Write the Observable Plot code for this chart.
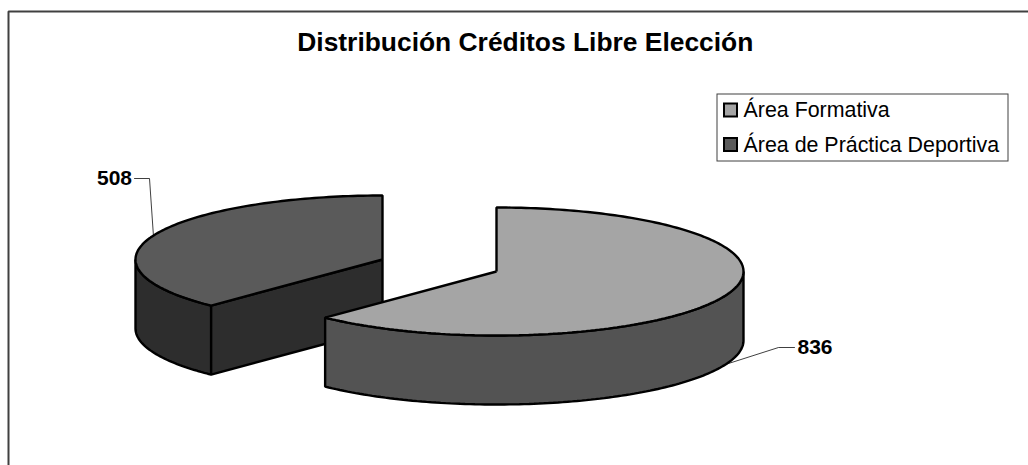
<!DOCTYPE html>
<html lang="es">
<head>
<meta charset="utf-8">
<script src="https://cdn.jsdelivr.net/npm/d3@7"></script>
<script src="https://cdn.jsdelivr.net/npm/@observablehq/plot@0.6"></script>
<style>
html,body{margin:0;padding:0;background:#fff;overflow:hidden}
svg{display:block}
</style>
</head>
<body>
<div id="chart"></div>
<script>
const categories = ["Área Formativa", "Área de Práctica Deportiva"];
const creditValues = [836, 508];
const topColors = ["#a5a5a5", "#5a5a5a"];
const sideColors = ["#535353", "#2d2d2d"];
const chartTitle = "Distribución Créditos Libre Elección";

const W = 1028, H = 465;
const rx = 247, ry = 64, depth = 69;
const centers = [{x: 496, y: 271}, {x: 382, y: 259}];
const labelAnchors = [
  {elbow: {x: 778, y: 347}, end: {x: 794, y: 347}, text: {x: 797, y: 347}, anchor: "start"},
  {elbow: {x: 149, y: 178}, end: {x: 134, y: 178}, text: {x: 131.5, y: 177.5}, anchor: "end"}
];

const arcs = d3.pie().sort(null).value(d => d)(creditValues);
const at = (c, a, dz = 0) => ({x: c.x + rx * Math.sin(a), y: c.y - ry * Math.cos(a) + dz});
const sweep = (c, a0, a1, dz = 0) => {
  const n = Math.max(2, Math.ceil(Math.abs(a1 - a0) / 0.02));
  return d3.range(n + 1).map(i => at(c, a0 + (a1 - a0) * i / n, dz));
};

const common = {x: "x", y: "y", stroke: "#000", strokeWidth: 2.4, strokeLinejoin: "miter", strokeLinecap: "butt"};
const marks = [];

// frame
marks.push(Plot.line([{x: 8, y: H}, {x: 8, y: 11}, {x: W, y: 11}],
  {x: "x", y: "y", stroke: "#404040", strokeWidth: 2, strokeLinejoin: "miter"}));

// slice 2 (back-left)
{
  const c = centers[1], a = arcs[1];
  const leftExtreme = 1.5 * Math.PI;
  const face = [at(c, a.startAngle), {x: c.x, y: c.y}, {x: c.x, y: c.y + depth}, at(c, a.startAngle, depth), at(c, a.startAngle)];
  const outer = [...sweep(c, a.startAngle, leftExtreme), ...sweep(c, leftExtreme, a.startAngle, depth)];
  outer.push(outer[0]);
  marks.push(Plot.line(outer, {...common, fill: sideColors[1]}));
  marks.push(Plot.line(face, {...common, fill: sideColors[1]}));
  const top = [{x: c.x, y: c.y}, ...sweep(c, a.startAngle, a.endAngle), {x: c.x, y: c.y}];
  marks.push(Plot.line(top, {...common, fill: topColors[1]}));
}
// slice 1 (front-right)
{
  const c = centers[0], a = arcs[0];
  const rightExtreme = 0.5 * Math.PI;
  const outer = [...sweep(c, rightExtreme, a.endAngle), ...sweep(c, a.endAngle, rightExtreme, depth)];
  outer.push(outer[0]);
  marks.push(Plot.line(outer, {...common, fill: sideColors[0]}));
  const top = [{x: c.x, y: c.y}, ...sweep(c, a.startAngle, a.endAngle), {x: c.x, y: c.y}];
  marks.push(Plot.line(top, {...common, fill: topColors[0]}));
}

// value labels with leader lines anchored at each slice's mid-angle
arcs.forEach((a, i) => {
  const mid = (a.startAngle + a.endAngle) / 2;
  const c = centers[i];
  const start = at(c, mid, i === 0 ? depth : 0);
  const L = labelAnchors[i];
  marks.push(Plot.line([start, L.elbow, L.end], {x: "x", y: "y", stroke: "#000", strokeWidth: 0.75, strokeLinejoin: "miter"}));
  marks.push(Plot.text([creditValues[i]], {
    x: () => L.text.x, y: () => L.text.y, text: d => String(d),
    textAnchor: L.anchor, fontFamily: "Liberation Sans", fontWeight: "bold", fontSize: 21, fill: "#000", lineAnchor: "middle"
  }));
});

// title
marks.push(Plot.text([chartTitle], {
  x: () => 524.8, y: () => 42.5, text: d => d, textAnchor: "middle", lineAnchor: "middle",
  fontFamily: "Liberation Sans", fontWeight: "bold", fontSize: 26.4, fill: "#000"
}));

// legend
marks.push(Plot.rect([0], {x1: () => 717, x2: () => 1008, y1: () => 94, y2: () => 161, fill: "#fff", stroke: "#404040", strokeWidth: 1}));
categories.forEach((name, i) => {
  const yc = 110 + i * 34.5;
  marks.push(Plot.rect([name], {x1: () => 724, x2: () => 737, y1: () => yc - 6.5, y2: () => yc + 6.5, fill: topColors[i], stroke: "#000", strokeWidth: 2}));
  marks.push(Plot.text([name], {x: () => 743, y: () => yc, text: d => d, textAnchor: "start", lineAnchor: "middle",
    fontFamily: "Liberation Sans", fontSize: 21.4, fill: "#000"}));
});

const svg = Plot.plot({
  width: W, height: H,
  marginTop: 0, marginRight: 0, marginBottom: 0, marginLeft: 0,
  x: {domain: [0, W], range: [0, W], axis: null},
  y: {domain: [0, H], range: [0, H], axis: null},
  style: {background: "#fff"},
  marks
});
document.getElementById("chart").appendChild(svg);
</script>
</body>
</html>
